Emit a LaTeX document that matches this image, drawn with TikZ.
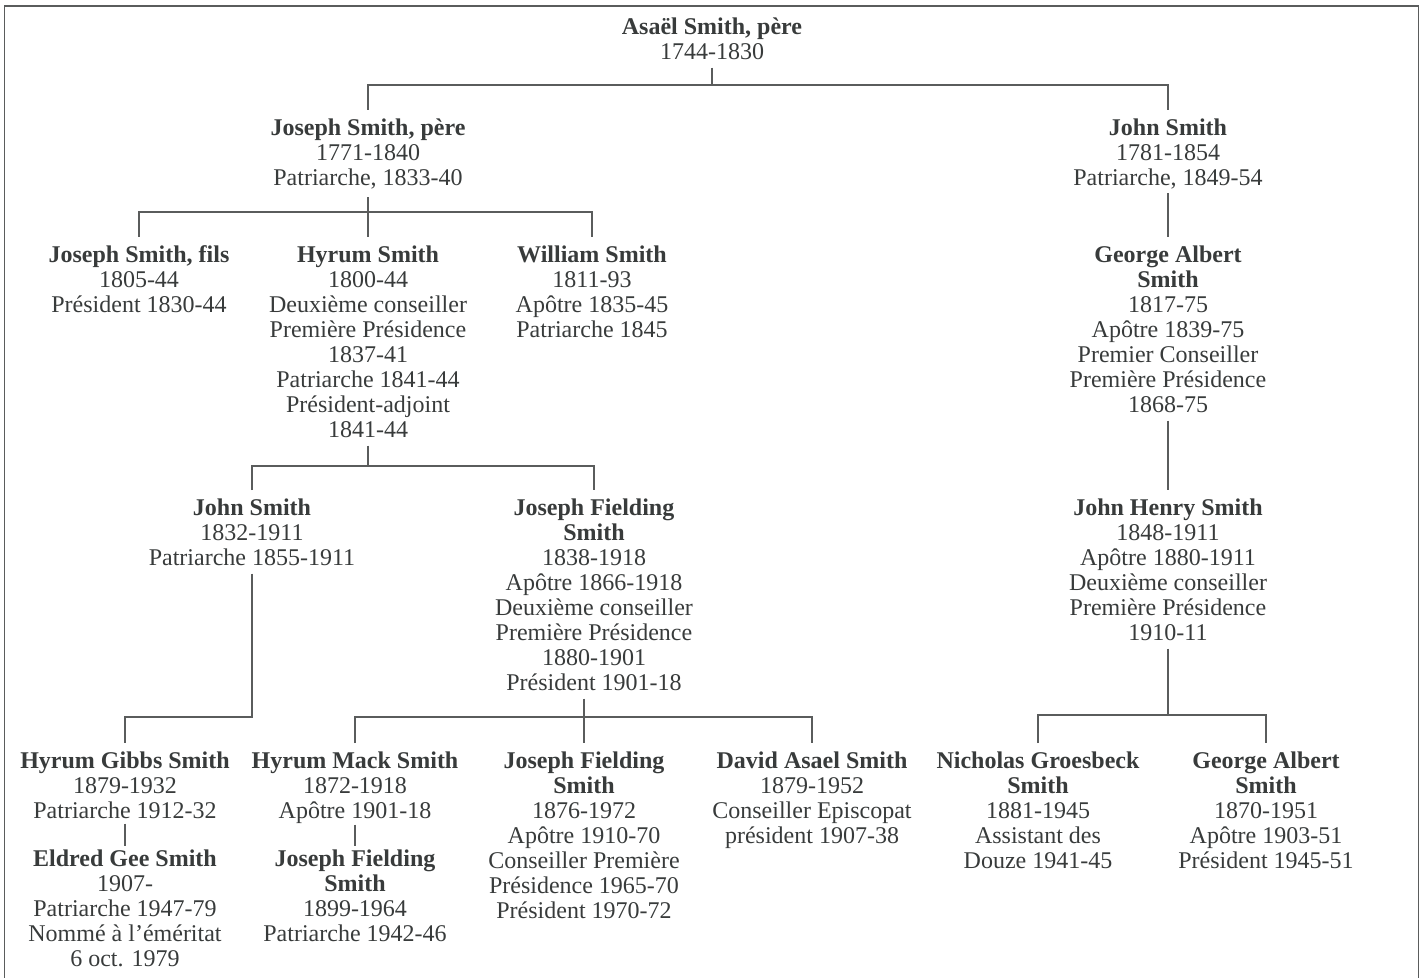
\documentclass[tikz,border=0pt]{standalone}
\usepackage{fontspec}
\setmainfont{Liberation Serif}
\definecolor{encre}{HTML}{383B3B}
\definecolor{trait}{HTML}{5A5C5C}
\tikzset{
  pers/.style={align=center, anchor=north, inner xsep=0pt, inner ysep=4pt, text=encre},
  lien/.style={draw=trait, line width=0.65pt},
}

\begin{document}
\begin{tikzpicture}[x=0.5pt, y=-0.5pt, font=\fontsize{12}{12.5}\selectfont, line join=miter]
    \useasboundingbox (0,0) rectangle (1423,978);
    % cadre (ouvert en bas)
    \draw[trait, line width=0.75pt] (4.5,990) -- (4.5,6) -- (1418.5,6) -- (1418.5,990);
    % generation 1 et 2
    \node[pers] (asael) at (712,9) {\textbf{Asaël Smith, père}\\1744-1830};
    \node[pers] (jsp) at (368,110) {\textbf{Joseph Smith, père}\\1771-1840\\Patriarche, 1833-40};
    \node[pers] (john1) at (1168,110) {\textbf{John Smith}\\1781-1854\\Patriarche, 1849-54};
    % generation 3
    \node[pers] (jsfils) at (139,237) {\textbf{Joseph Smith, fils}\\1805-44\\Président 1830-44};
    \node[pers] (hyrum) at (368,237) {\textbf{Hyrum Smith}\\1800-44\\Deuxième conseiller\\Première Présidence\\1837-41\\Patriarche 1841-44\\Président-adjoint\\1841-44};
    \node[pers] (william) at (592,237) {\textbf{William Smith}\\1811-93\\Apôtre 1835-45\\Patriarche 1845};
    \node[pers] (gas1) at (1168,237) {\textbf{George Albert}\\\textbf{Smith}\\1817-75\\Apôtre 1839-75\\Premier Conseiller\\Première Présidence\\1868-75};
    % generation 4
    \node[pers] (john2) at (252,490) {\textbf{John Smith}\\1832-1911\\Patriarche 1855-1911};
    \node[pers] (jfs1) at (594,490) {\textbf{Joseph Fielding}\\\textbf{Smith}\\1838-1918\\Apôtre 1866-1918\\Deuxième conseiller\\Première Présidence\\1880-1901\\Président 1901-18};
    \node[pers] (jhs) at (1168,490) {\textbf{John Henry Smith}\\1848-1911\\Apôtre 1880-1911\\Deuxième conseiller\\Première Présidence\\1910-11};
    % generation 5
    \node[pers] (hgs) at (125,743) {\textbf{Hyrum Gibbs Smith}\\1879-1932\\Patriarche 1912-32};
    \node[pers] (egs) at (125,841) {\textbf{Eldred Gee Smith}\\1907-\\Patriarche 1947-79\\Nommé à l’éméritat\\6 oct. 1979};
    \node[pers] (hms) at (355,743) {\textbf{Hyrum Mack Smith}\\1872-1918\\Apôtre 1901-18};
    \node[pers] (jfs3) at (355,841) {\textbf{Joseph Fielding}\\\textbf{Smith}\\1899-1964\\Patriarche 1942-46};
    \node[pers] (jfs2) at (584,743) {\textbf{Joseph Fielding}\\\textbf{Smith}\\1876-1972\\Apôtre 1910-70\\Conseiller Première\\Présidence 1965-70\\Président 1970-72};
    \node[pers] (das) at (812,743) {\textbf{David Asael Smith}\\1879-1952\\Conseiller Episcopat\\président 1907-38};
    \node[pers] (ngs) at (1038,743) {\textbf{Nicholas Groesbeck}\\\textbf{Smith}\\1881-1945\\Assistant des\\Douze 1941-45};
    \node[pers] (gas2) at (1266,743) {\textbf{George Albert}\\\textbf{Smith}\\1870-1951\\Apôtre 1903-51\\Président 1945-51};
    % barres
    \coordinate (b0) at (712,85);
    \coordinate (b1) at (368,212);
    \coordinate (b2) at (368,466);
    \coordinate (b3) at (252,717);
    \coordinate (b4) at (584,717);
    \coordinate (b5) at (1168,715);
    % liens
    \draw[lien] (asael.south) -- (b0);
    \draw[lien] (jsp.north) |- (b0) -| (john1.north);
    \draw[lien] (jsp.south) -- (hyrum.north);
    \draw[lien] (jsfils.north) |- (b1) -| (william.north);
    \draw[lien, shorten <=-2pt] (john1.south) -- (gas1.north);
    \draw[lien] (hyrum.south) -- (b2);
    \draw[lien] (john2.north) |- (b2) -| (jfs1.north);
    \draw[lien] (gas1.south) -- (jhs.north);
    \draw[lien] (john2.south) -- (b3) -| (hgs.north);
    \draw[lien] (jfs1.south -| b4) -- (jfs2.north);
    \draw[lien] (hms.north) |- (b4) -| (das.north);
    \draw[lien] (jhs.south) -- (b5);
    \draw[lien] (ngs.north) |- (b5) -| (gas2.north);
    \draw[lien, shorten <=-1.5pt, shorten >=-2.5pt] (hgs.south) -- (egs.north);
    \draw[lien, shorten <=-3.5pt, shorten >=-2.5pt] (hms.south) -- (jfs3.north);
\end{tikzpicture}
\end{document}
